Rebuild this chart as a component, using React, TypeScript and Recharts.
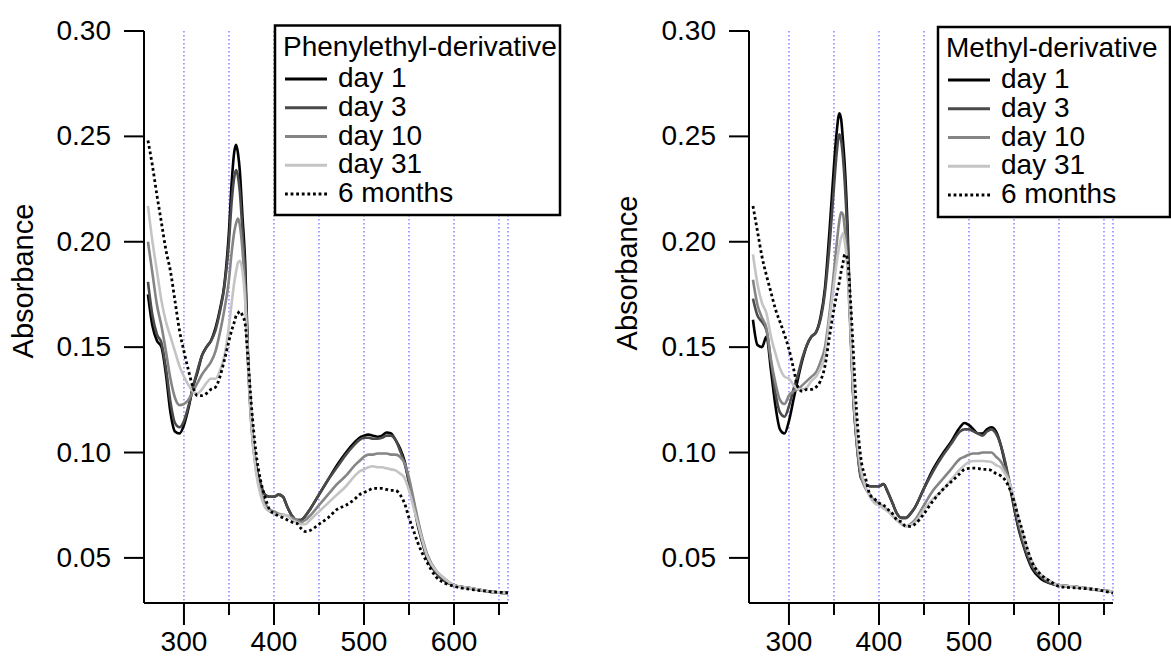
import { LineChart, Line, XAxis, YAxis, CartesianGrid } from 'recharts'

// wavelength grid (nm) shared by every spectrum
const WAVELENGTH = [
  260, 265, 270, 275, 280, 285, 290, 295, 300, 305, 310, 315, 320, 325, 330, 335, 340, 345, 350,
  353, 356, 358, 360, 362, 365, 368, 371, 375,
  380, 385, 390, 395, 400, 405, 410, 415, 420, 425, 430, 435, 440,
  450, 460, 470, 480, 490,
  495, 500, 505, 510, 515, 520, 525, 530, 535, 540, 545, 550, 555, 560, 565, 570,
  580, 590, 600, 620, 640, 660,
]

// Phenylethyl-derivative
const PHENYL_DAY1 = [
  0.175, 0.160, 0.153, 0.150, 0.137, 0.119, 0.110, 0.109, 0.113, 0.121, 0.131, 0.138, 0.146, 0.150, 0.153, 0.159, 0.168, 0.180, 0.205,
  0.228, 0.243, 0.246, 0.242, 0.234, 0.212, 0.190, 0.148, 0.115,
  0.094, 0.085, 0.080, 0.079, 0.079, 0.080, 0.079, 0.074, 0.070, 0.068, 0.068, 0.070, 0.073,
  0.080, 0.087, 0.094, 0.100, 0.105,
  0.107, 0.108, 0.1085, 0.108, 0.1075, 0.108, 0.1095, 0.109, 0.106, 0.102, 0.096, 0.086, 0.076, 0.065, 0.057, 0.050,
  0.043, 0.039, 0.037, 0.0355, 0.034, 0.0333,
]
const PHENYL_DAY3 = [
  0.181, 0.165, 0.156, 0.152, 0.140, 0.124, 0.114, 0.112, 0.115, 0.122, 0.131, 0.139, 0.146, 0.150, 0.153, 0.158, 0.167, 0.179, 0.200,
  0.219, 0.231, 0.234, 0.231, 0.224, 0.205, 0.184, 0.146, 0.114,
  0.094, 0.085, 0.080, 0.079, 0.079, 0.080, 0.079, 0.074, 0.070, 0.068, 0.068, 0.070, 0.073,
  0.080, 0.087, 0.093, 0.099, 0.104,
  0.106, 0.107, 0.107, 0.1065, 0.1065, 0.107, 0.108, 0.108, 0.106, 0.101, 0.095, 0.086, 0.076, 0.067, 0.058, 0.051,
  0.043, 0.039, 0.037, 0.0355, 0.034, 0.0333,
]
const PHENYL_DAY10 = [
  0.200, 0.185, 0.170, 0.160, 0.148, 0.135, 0.126, 0.1225, 0.123, 0.125, 0.129, 0.133, 0.137, 0.140, 0.143, 0.148, 0.157, 0.168, 0.182,
  0.195, 0.205, 0.209, 0.211, 0.208, 0.196, 0.176, 0.143, 0.112,
  0.092, 0.082, 0.076, 0.073, 0.072, 0.071, 0.0705, 0.070, 0.069, 0.068, 0.067, 0.068, 0.070,
  0.075, 0.080, 0.085, 0.089, 0.094,
  0.096, 0.098, 0.099, 0.099, 0.0995, 0.0995, 0.0995, 0.099, 0.099, 0.098, 0.095, 0.088, 0.078, 0.068, 0.059, 0.052,
  0.044, 0.040, 0.037, 0.0355, 0.034, 0.0333,
]
const PHENYL_DAY31 = [
  0.217, 0.200, 0.186, 0.172, 0.162, 0.155, 0.148, 0.141, 0.136, 0.132, 0.129, 0.128, 0.130, 0.133, 0.135, 0.135, 0.139, 0.146, 0.160,
  0.171, 0.181, 0.186, 0.190, 0.191, 0.186, 0.172, 0.145, 0.113,
  0.091, 0.080, 0.074, 0.072, 0.071, 0.0705, 0.0705, 0.070, 0.068, 0.067, 0.066, 0.066, 0.068,
  0.072, 0.076, 0.080, 0.084, 0.089,
  0.091, 0.092, 0.093, 0.0935, 0.093, 0.093, 0.0925, 0.092, 0.0915, 0.090, 0.088, 0.082, 0.074, 0.066, 0.058, 0.051,
  0.044, 0.040, 0.037, 0.0355, 0.034, 0.0333,
]
const PHENYL_6MONTHS = [
  0.248, 0.236, 0.222, 0.209, 0.196, 0.186, 0.172, 0.158, 0.148, 0.139, 0.131, 0.127, 0.127, 0.128, 0.130, 0.131, 0.136, 0.144, 0.153,
  0.158, 0.162, 0.165, 0.166, 0.167, 0.165, 0.161, 0.145, 0.122,
  0.100, 0.087, 0.079, 0.073, 0.071, 0.070, 0.069, 0.068, 0.067, 0.0665, 0.064, 0.0625, 0.063,
  0.066, 0.069, 0.073, 0.075, 0.078,
  0.080, 0.081, 0.082, 0.083, 0.083, 0.083, 0.0825, 0.082, 0.082, 0.080, 0.076, 0.069, 0.063, 0.057, 0.052, 0.048,
  0.041, 0.038, 0.0365, 0.035, 0.034, 0.0335,
]

// Methyl-derivative
const METHYL_DAY1 = [
  0.163, 0.151, 0.150, 0.155, 0.139, 0.122, 0.111, 0.109, 0.115, 0.125, 0.135, 0.144, 0.151, 0.155, 0.157, 0.164, 0.178, 0.205, 0.236,
  0.252, 0.261, 0.258, 0.248, 0.236, 0.208, 0.165, 0.130, 0.106,
  0.088, 0.085, 0.084, 0.084, 0.084, 0.085, 0.081, 0.076, 0.071, 0.069, 0.069, 0.071, 0.074,
  0.083, 0.092, 0.099, 0.105, 0.112,
  0.114, 0.113, 0.111, 0.109, 0.109, 0.111, 0.112, 0.110, 0.104, 0.095, 0.085, 0.074, 0.064, 0.0565, 0.050, 0.045,
  0.040, 0.038, 0.037, 0.0362, 0.035, 0.034,
]
const METHYL_DAY3 = [
  0.173, 0.165, 0.162, 0.158, 0.143, 0.128, 0.119, 0.117, 0.122, 0.130, 0.137, 0.145, 0.151, 0.155, 0.157, 0.163, 0.176, 0.198, 0.226,
  0.242, 0.251, 0.248, 0.240, 0.228, 0.202, 0.163, 0.131, 0.107,
  0.089, 0.085, 0.084, 0.084, 0.084, 0.085, 0.081, 0.076, 0.071, 0.069, 0.069, 0.071, 0.074,
  0.083, 0.091, 0.098, 0.104, 0.110,
  0.111, 0.111, 0.110, 0.109, 0.108, 0.110, 0.111, 0.109, 0.104, 0.096, 0.086, 0.075, 0.065, 0.057, 0.051, 0.046,
  0.041, 0.038, 0.037, 0.0362, 0.035, 0.034,
]
const METHYL_DAY10 = [
  0.182, 0.170, 0.164, 0.159, 0.144, 0.133, 0.125, 0.123, 0.127, 0.129, 0.130, 0.132, 0.134, 0.136, 0.138, 0.143, 0.150, 0.166, 0.186,
  0.199, 0.210, 0.214, 0.213, 0.206, 0.188, 0.160, 0.130, 0.106,
  0.089, 0.083, 0.080, 0.077, 0.076, 0.074, 0.0725, 0.070, 0.068, 0.066, 0.065, 0.066, 0.068,
  0.075, 0.082, 0.087, 0.092, 0.097,
  0.098, 0.099, 0.0995, 0.0995, 0.100, 0.100, 0.100, 0.098, 0.096, 0.092, 0.086, 0.077, 0.068, 0.060, 0.053, 0.048,
  0.042, 0.039, 0.037, 0.0362, 0.035, 0.034,
]
const METHYL_DAY31 = [
  0.194, 0.180, 0.171, 0.166, 0.155, 0.147, 0.140, 0.136, 0.135, 0.132, 0.130, 0.130, 0.131, 0.134, 0.136, 0.140, 0.146, 0.163, 0.180,
  0.190, 0.198, 0.202, 0.204, 0.200, 0.188, 0.164, 0.134, 0.110,
  0.092, 0.084, 0.079, 0.076, 0.075, 0.0735, 0.072, 0.070, 0.068, 0.066, 0.065, 0.0655, 0.067,
  0.073, 0.078, 0.082, 0.087, 0.092,
  0.094, 0.0955, 0.096, 0.096, 0.096, 0.0958, 0.0955, 0.094, 0.093, 0.090, 0.086, 0.078, 0.069, 0.061, 0.054, 0.048,
  0.042, 0.039, 0.037, 0.0362, 0.035, 0.034,
]
const METHYL_6MONTHS = [
  0.217, 0.205, 0.193, 0.184, 0.176, 0.168, 0.162, 0.156, 0.149, 0.140, 0.131, 0.129, 0.130, 0.130, 0.131, 0.134, 0.141, 0.155, 0.168,
  0.175, 0.181, 0.186, 0.190, 0.194, 0.192, 0.175, 0.152, 0.120,
  0.097, 0.088, 0.080, 0.078, 0.076, 0.075, 0.073, 0.071, 0.068, 0.067, 0.065, 0.065, 0.066,
  0.071, 0.077, 0.082, 0.086, 0.090,
  0.092, 0.0925, 0.0926, 0.0925, 0.092, 0.092, 0.0915, 0.090, 0.089, 0.087, 0.083, 0.077, 0.069, 0.062, 0.054, 0.048,
  0.042, 0.039, 0.0365, 0.0357, 0.035, 0.0333,
]

const SERIES_NAMES = ['day 1', 'day 3', 'day 10', 'day 31', '6 months']
const X_TICKS = [300, 350, 400, 450, 500, 550, 600, 650]
const Y_TICKS = [0.05, 0.1, 0.15, 0.2, 0.25, 0.3]

const FONT = '"Liberation Sans", Arial, Helvetica, sans-serif'
const FONT_SIZE = 28

const SERIES_STYLE = [
  { key: 'd1', color: '#000000', dash: undefined as string | undefined },
  { key: 'd3', color: '#4a4a4a', dash: undefined },
  { key: 'd10', color: '#858585', dash: undefined },
  { key: 'd31', color: '#c4c4c4', dash: undefined },
  { key: 'm6', color: '#000000', dash: '2.8 2.8' },
]

function buildRows(series: number[][]) {
  return WAVELENGTH.map((wl, i) => {
    const row: Record<string, number> = { wl }
    SERIES_STYLE.forEach((s, k) => {
      row[s.key] = series[k][i]
    })
    return row
  })
}

const phenylRows = buildRows([PHENYL_DAY1, PHENYL_DAY3, PHENYL_DAY10, PHENYL_DAY31, PHENYL_6MONTHS])
const methylRows = buildRows([METHYL_DAY1, METHYL_DAY3, METHYL_DAY10, METHYL_DAY31, METHYL_6MONTHS])

function XTick(props: any) {
  const { x, y, payload } = props
  const major = payload.value % 100 === 0
  return (
    <g>
      <line x1={x} x2={x} y1={y} y2={y + (major ? 22 : 12)} stroke="#000" strokeWidth={2} />
      {major && (
        <text x={x} y={y + 48} textAnchor="middle" fontFamily={FONT} fontSize={FONT_SIZE} fill="#000">
          {payload.value}
        </text>
      )}
    </g>
  )
}

function YTick(props: any) {
  const { x, y, payload } = props
  return (
    <g>
      <line x1={x - 20} x2={x} y1={y} y2={y} stroke="#000" strokeWidth={2} />
      <text x={x - 33} y={y + 9} textAnchor="end" fontFamily={FONT} fontSize={FONT_SIZE} fill="#000">
        {Number(payload.value).toFixed(2)}
      </text>
    </g>
  )
}

function SpectraPanel({ rows, width }: { rows: Record<string, number>[]; width: number }) {
  return (
    <LineChart width={width} height={662} data={rows} margin={{ top: 31, right: width - 508, bottom: 29, left: 84 }}>
      <CartesianGrid horizontal={false} stroke="#4646ff" strokeDasharray="1.5 2.5" strokeWidth={1} />
      <XAxis
        dataKey="wl"
        type="number"
        domain={[255.6, 660]}
        ticks={X_TICKS}
        height={30}
        tickSize={0}
        tickMargin={0}
        tickLine={false}
        axisLine={{ stroke: '#000', strokeWidth: 2 }}
        tick={<XTick />}
        interval={0}
        allowDataOverflow
      />
      <YAxis
        type="number"
        domain={[0.0286, 0.3]}
        ticks={Y_TICKS}
        width={60}
        tickSize={0}
        tickMargin={0}
        tickLine={false}
        axisLine={{ stroke: '#000', strokeWidth: 2 }}
        tick={<YTick />}
        interval={0}
        allowDataOverflow
      />
      {SERIES_STYLE.map((s) => (
        <Line
          key={s.key}
          type="monotone"
          dataKey={s.key}
          stroke={s.color}
          strokeWidth={s.dash ? 2.8 : 2.6}
          strokeDasharray={s.dash}
          dot={false}
          activeDot={false}
          isAnimationActive={false}
        />
      ))}
    </LineChart>
  )
}

function LegendBox({ x, y, w, h, title, dy }: { x: number; y: number; w: number; h: number; title: string; dy: number }) {
  return (
    <g>
      <rect x={x} y={y} width={w} height={h} fill="#fff" stroke="#000" strokeWidth={2.5} />
      <text x={x + 8} y={56 + dy} fontFamily={FONT} fontSize={FONT_SIZE} fill="#000">
        {title}
      </text>
      {SERIES_NAMES.map((name, i) => {
        const base = 87 + dy + i * 28.75
        const s = SERIES_STYLE[i]
        return (
          <g key={name}>
            <line
              x1={x + 10}
              x2={x + 52}
              y1={base - 8}
              y2={base - 8}
              stroke={s.color}
              strokeWidth={s.dash ? 2.8 : 3}
              strokeDasharray={s.dash}
            />
            <text x={x + 63} y={base} fontFamily={FONT} fontSize={FONT_SIZE} fill="#000">
              {name}
            </text>
          </g>
        )
      })}
    </g>
  )
}

export default function App() {
  return (
    <div style={{ position: 'absolute', left: 0, top: 0, width: 1171, height: 662, background: '#fff', overflow: 'hidden' }}>
      <div style={{ position: 'absolute', left: 0, top: 0 }}>
        <SpectraPanel rows={phenylRows} width={580} />
      </div>
      <div style={{ position: 'absolute', left: 605, top: 0 }}>
        <SpectraPanel rows={methylRows} width={566} />
      </div>
      <svg width={1171} height={662} style={{ position: 'absolute', left: 0, top: 0, pointerEvents: 'none' }}>
        <text
          x={33}
          y={281}
          transform="rotate(-90 33 281)"
          textAnchor="middle"
          fontFamily={FONT}
          fontSize={29}
          fill="#000"
        >
          Absorbance
        </text>
        <text
          x={637}
          y={273}
          transform="rotate(-90 637 273)"
          textAnchor="middle"
          fontFamily={FONT}
          fontSize={29}
          fill="#000"
        >
          Absorbance
        </text>
        <LegendBox x={275} y={25.5} w={285} h={189.5} title="Phenylethyl-derivative" dy={0} />
        <LegendBox x={938} y={27} w={232} h={190} title="Methyl-derivative" dy={1} />
      </svg>
    </div>
  )
}
